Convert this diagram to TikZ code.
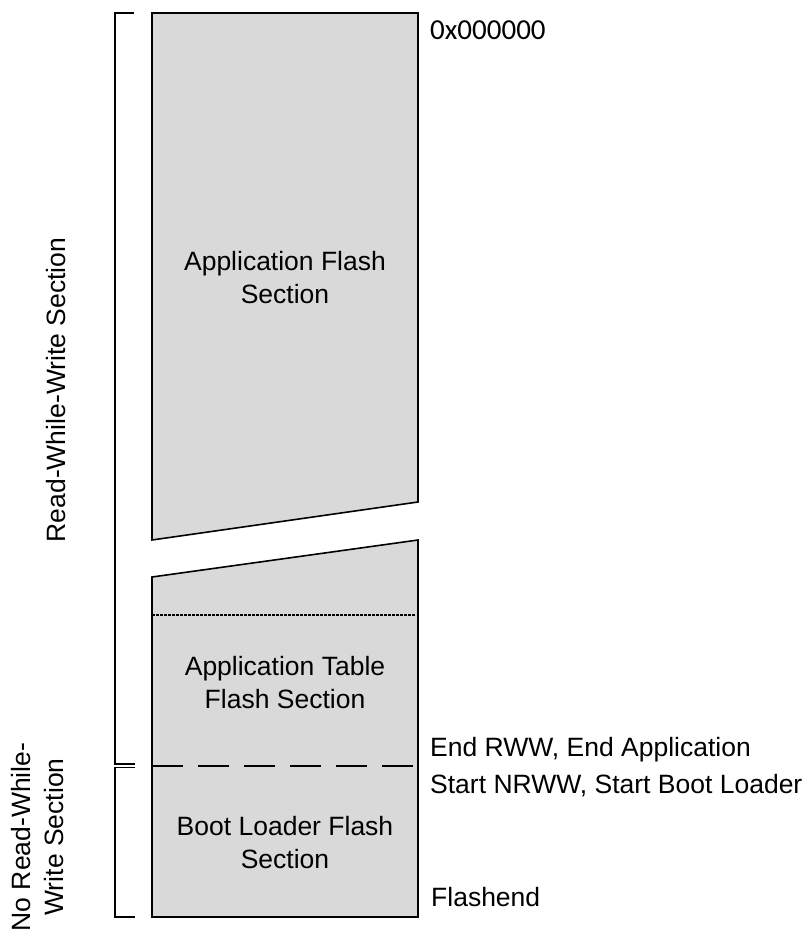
\documentclass[tikz,border=0pt]{standalone}
\usepackage{fontspec}
\setmainfont{Liberation Sans}
\newfontfamily\addrfont{Carlito}

\tikzset{
    flash/.style={draw, line width=1.6pt, fill=gray!30, line join=miter},
    bracket/.style={draw, line width=1.6pt},
    label/.style={inner sep=0pt, font=\fontsize{26.5}{33}\selectfont, align=center},
    addr/.style={inner sep=0pt, anchor=base west, font=\fontsize{26.5}{33}\selectfont}
}

\begin{document}
\begin{tikzpicture}[x=1pt, y=-1pt]
        \useasboundingbox (0,0) rectangle (809,932);

        % flash blocks
        \draw[flash] (152,13) -- (418,13) -- (418,502) -- (152,540) -- cycle;
        \draw[flash] (152,577) -- (418,540) -- (418,917) -- (152,917) -- cycle;

        \coordinate (tblL) at (152,615);
        \coordinate (tblR) at (416,615);
        \coordinate (bootL) at (152,766);
        \coordinate (bootR) at (416,766);
        \draw[line width=2pt, dash pattern=on 2.5pt off 1.5pt] (tblL) -- (tblR);
        \draw[line width=2.2pt, dash pattern=on 31pt off 15pt] (bootL) -- (bootR);

        % section brackets
        \draw[bracket] (134,13) -- (115,13) -- (115,764) -- (135,764);
        \draw[bracket] (135,767.5) -- (115,767.5) -- (115,917) -- (135,917);

        \node[label] (App) at (285,278) {Application Flash\\Section};
        \node[label] (Table) at (285,683) {Application Table\\Flash Section};
        \node[label] (Boot) at (285,843) {Boot Loader Flash\\Section};

        \node[label, rotate=90] (RWW) at (56,390) {Read-While-Write Section};
        \node[label, rotate=90] (NRWW) at (38,837) {No Read-While-\\Write Section};

        \node[addr, font=\addrfont\fontsize{29}{33}\selectfont] (Start) at (430,39) {0x000000};
        \node[addr] (EndRWW) at (430,756) {End RWW, End Application};
        \node[addr] (StartNRWW) at (430,793) {Start NRWW, Start Boot Loader};
        \node[addr] (End) at (431,906) {Flashend};
    \end{tikzpicture}
\end{document}
